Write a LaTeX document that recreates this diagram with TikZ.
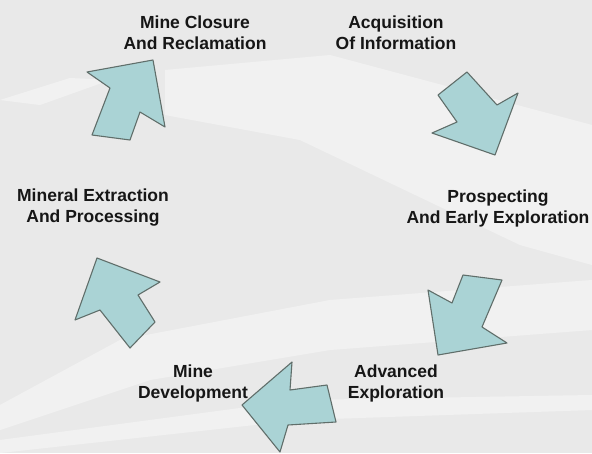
\documentclass[tikz,border=0pt]{standalone}
\usepackage{fontspec}
\setmainfont{Liberation Sans}
\definecolor{bggray}{RGB}{233,233,233}
\definecolor{arrowfill}{RGB}{170,211,213}
\definecolor{arrowline}{RGB}{96,110,106}
\definecolor{labeltext}{RGB}{22,22,22}
\tikzset{
  stage/.style={align=center, text=labeltext, inner sep=0pt,
    font=\fontsize{17.5}{21}\selectfont\bfseries},
  cyclearrow/.style={fill=arrowfill, draw=arrowline, line width=1.1pt, line join=round},
  streak/.style={fill=white, opacity=0.4}
}
\begin{document}
\begin{tikzpicture}[x=1pt,y=-1pt]
	% Fons
	\fill[bggray] (0,0) rectangle (592,453);
	\useasboundingbox (0,0) rectangle (592,453);

	% Franges clares del fons
	\fill[streak] (165,70) -- (330,55) -- (592,125) -- (592,265) -- (520,245) -- (300,140) -- (165,115) -- cycle;
	\fill[streak] (0,100) -- (70,78) -- (110,80) -- (40,105) -- cycle;
	\fill[streak] (0,405) -- (120,340) -- (330,300) -- (592,280) -- (592,330) -- (330,350) -- (150,380) -- (0,430) -- cycle;
	\fill[streak] (0,440) -- (300,400) -- (592,395) -- (592,410) -- (300,420) -- (0,453) -- cycle;

	% Etapes del cicle
	\node[stage] (acquisition) at (396,33) {Acquisition\\Of Information};
	\node[stage] (prospecting) at (498,208) {Prospecting\\And Early Exploration};
	\node[stage] (advanced) at (396,383) {Advanced\\Exploration};
	\node[stage] (development) at (193,383) {Mine\\Development};
	\node[stage] (extraction) at (93,208) {Mineral Extraction\\And Processing};
	\node[stage] (closure) at (195,33) {Mine Closure\\And Reclamation};

	% Fletxes entre etapes
	\draw[cyclearrow] (438,95) -- (467,72) -- (497,105) -- (518,93) -- (495,155)
		-- (432,133) -- (457,122) -- cycle;
	\draw[cyclearrow] (463,275) -- (502,280) -- (482,327) -- (507,343) -- (438,355)
		-- (428,290) -- (452,303) -- cycle;
	\draw[cyclearrow] (327,385) -- (336,422) -- (288,425) -- (280,452) -- (242,405)
		-- (292,362) -- (290,390) -- cycle;
	\draw[cyclearrow] (155,322) -- (130,348) -- (100,310) -- (75,320) -- (97,258)
		-- (160,282) -- (138,295) -- cycle;
	\draw[cyclearrow] (92,135) -- (110,88) -- (87,72) -- (153,60) -- (165,127)
		-- (140,112) -- (130,140) -- cycle;
\end{tikzpicture}
\end{document}
